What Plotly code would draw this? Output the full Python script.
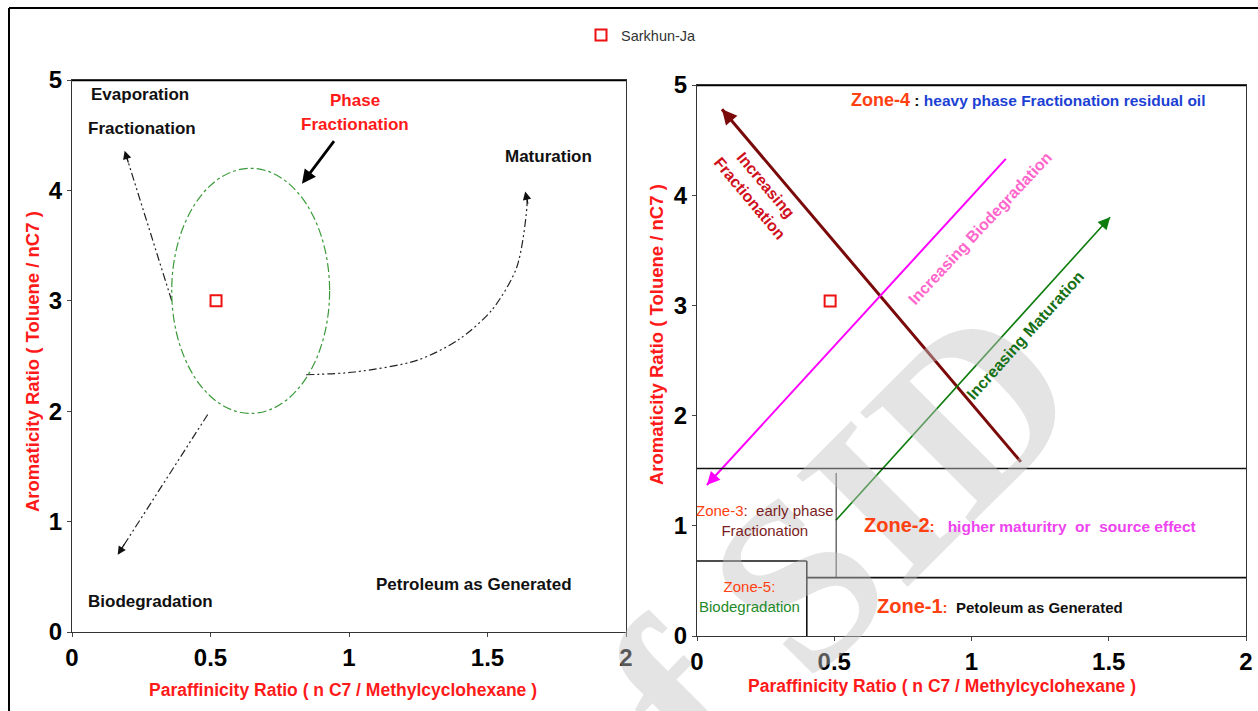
import math
import plotly.graph_objects as go

# ---- data -----------------------------------------------------------------
sample_name = "Sarkhun-Ja"
sample_left_x = [0.52]
sample_left_y = [3.0]
sample_right_x = [0.485]
sample_right_y = [3.04]

# left panel: phase-fractionation envelope (bounding box of the ellipse)
envelope_x = [0.36, 0.93]
envelope_y = [1.98, 4.20]

# left panel trend paths (dash-dot), arrowhead at the last point
evap_x = [0.36, 0.19]
evap_y = [3.00, 4.36]
biodeg_left_x = [0.49, 0.165]
biodeg_left_y = [1.97, 0.70]
matur_left_x = [0.845, 1.02, 1.245, 1.394, 1.516, 1.606, 1.643, 1.636]
matur_left_y = [2.33, 2.355, 2.46, 2.645, 2.917, 3.306, 3.913, 3.99]
phase_arrow_x = [0.95, 0.83]
phase_arrow_y = [4.46, 4.06]

# right panel trend lines, arrowhead at the last point
frac_x = [1.18, 0.091]
frac_y = [1.58, 4.78]
biodeg_x = [1.125, 0.036]
biodeg_y = [4.33, 1.37]
matur_x = [0.506, 1.505]
matur_y = [1.05, 3.80]

# right panel zone boundaries
zone_top_y = 1.52          # zone-4 lower limit
zone3_x = 0.507            # zone-3 / zone-2 divider
zone3_ylim = [0.535, 1.48]
zone1_top_y = 0.53         # zone-1 upper limit
zone5_x = 0.40             # zone-5 right limit
zone5_top_y = 0.68

x_ticks = [0, 0.5, 1, 1.5, 2]
x_tick_text = ["0", "0.5", "1", "1.5", "2"]
y_ticks = [0, 1, 2, 3, 4, 5]

# ---- layout geometry ----------------------------------------------------------
W, H = 1258, 711
LEFT_DOM_X = [72 / W, 626 / W]
LEFT_DOM_Y = [1 - 632 / H, 1 - 80 / H]
RIGHT_DOM_X = [697 / W, 1246 / W]
RIGHT_DOM_Y = [1 - 636 / H, 1 - 85 / H]
SCALE = {
    "x": (LEFT_DOM_X[1] - LEFT_DOM_X[0]) * W / 2,
    "y": (LEFT_DOM_Y[1] - LEFT_DOM_Y[0]) * H / 5,
    "x2": (RIGHT_DOM_X[1] - RIGHT_DOM_X[0]) * W / 2,
    "y2": (RIGHT_DOM_Y[1] - RIGHT_DOM_Y[0]) * H / 5,
}

NARROW = "Liberation Sans Narrow, Arial Narrow, Liberation Sans, Arial"
SANS = "Liberation Sans, Arial, Helvetica"
RED = "#ff1a1a"
ZONE = "#ff4010"

fig = go.Figure()

# watermark first so it sits under the other annotations
fig.add_annotation(x=800 / W, y=1 - 580 / H, xref="paper", yref="paper",
                   xanchor="center", yanchor="middle",
                   text="of SID", textangle=-45, showarrow=False, opacity=0.45,
                   font=dict(size=240, color="#c4c4c4", weight="bold",
                             family="Liberation Serif, Times New Roman, serif"))

sq = dict(symbol="square-open", size=11, color="#ee1111", line=dict(width=2))
fig.add_trace(go.Scatter(x=sample_left_x, y=sample_left_y, mode="markers",
                         marker=sq, name=sample_name, xaxis="x", yaxis="y",
                         showlegend=True))
fig.add_trace(go.Scatter(x=sample_right_x, y=sample_right_y, mode="markers",
                         marker=sq, name=sample_name, xaxis="x2", yaxis="y2",
                         showlegend=False))


def path(xs, ys, color, width, dash, ax="x", ay="y", shape="linear"):
    fig.add_trace(go.Scatter(x=xs, y=ys, mode="lines", xaxis=ax, yaxis=ay,
                             line=dict(color=color, width=width, dash=dash,
                                       shape=shape, smoothing=0.8),
                             showlegend=False, hoverinfo="skip"))


def head(xs, ys, color, size, width, xr="x", yr="y", tail=14):
    # arrowhead at the last point, pointing along the final segment
    x1, y1 = xs[-1], ys[-1]
    x0, y0 = xs[-2], ys[-2]
    dx = (x1 - x0) * SCALE[xr]
    dy = -(y1 - y0) * SCALE[yr]
    n = math.hypot(dx, dy)
    fig.add_annotation(x=x1, y=y1, xref=xr, yref=yr, ax=-dx / n * tail,
                       ay=-dy / n * tail, text="", showarrow=True,
                       arrowhead=2, arrowsize=size, arrowwidth=width,
                       arrowcolor=color)


# left panel
dashdot = "8px,3px,2px,3px,2px,3px"
path(evap_x, evap_y, "#222222", 1.2, dashdot)
head(evap_x, evap_y, "#111111", 1.4, 1.2)
path(biodeg_left_x, biodeg_left_y, "#222222", 1.2, dashdot)
head(biodeg_left_x, biodeg_left_y, "#111111", 1.4, 1.2)
path(matur_left_x, matur_left_y, "#222222", 1.2, dashdot, shape="spline")
head(matur_left_x, matur_left_y, "#111111", 1.4, 1.2)
fig.add_annotation(x=phase_arrow_x[1], y=phase_arrow_y[1], ax=phase_arrow_x[0],
                   ay=phase_arrow_y[0], xref="x", yref="y", axref="x", ayref="y",
                   text="", showarrow=True, arrowhead=2, arrowsize=1.0,
                   arrowwidth=2.8, arrowcolor="#000000")
fig.add_shape(type="circle", xref="x", yref="y",
              x0=envelope_x[0], x1=envelope_x[1], y0=envelope_y[0], y1=envelope_y[1],
              line=dict(color="#3a9a3a", width=1.2, dash="dashdot"))

# right panel
path(frac_x, frac_y, "#7a0a0a", 3, "solid", "x2", "y2")
head(frac_x, frac_y, "#7a0a0a", 1.0, 3, "x2", "y2", tail=16)
path(biodeg_x, biodeg_y, "#ff00ff", 2, "solid", "x2", "y2")
head(biodeg_x, biodeg_y, "#ff00ff", 1.3, 2, "x2", "y2")
path(matur_x, matur_y, "#0c7c0c", 1.6, "solid", "x2", "y2")
head(matur_x, matur_y, "#0c7c0c", 1.5, 1.6, "x2", "y2")

bline = dict(color="#111111", width=1.6)
fig.add_shape(type="line", xref="x2", yref="y2", x0=0, x1=2, y0=zone_top_y, y1=zone_top_y, line=bline)
fig.add_shape(type="line", xref="x2", yref="y2", x0=zone3_x, x1=zone3_x,
              y0=zone3_ylim[0], y1=zone3_ylim[1], line=dict(color="#222222", width=1))
fig.add_shape(type="line", xref="x2", yref="y2", x0=zone5_x, x1=2, y0=zone1_top_y, y1=zone1_top_y, line=bline)
fig.add_shape(type="line", xref="x2", yref="y2", x0=0, x1=zone5_x, y0=zone5_top_y, y1=zone5_top_y, line=bline)
fig.add_shape(type="line", xref="x2", yref="y2", x0=zone5_x, x1=zone5_x, y0=0, y1=zone5_top_y, line=bline)

# heavy top frame lines of both panels
for xr, yr in (("x", "y"), ("x2", "y2")):
    fig.add_shape(type="line", xref=xr, yref=yr, x0=0, x1=2, y0=5, y1=5,
                  line=dict(color="#000000", width=2.6))

# outer frame (left and top)
fig.add_shape(type="line", xref="paper", yref="paper", x0=9 / W, x1=9 / W,
              y0=0, y1=1 - 8 / H, line=dict(color="#000000", width=2))
fig.add_shape(type="line", xref="paper", yref="paper", x0=9 / W, x1=1,
              y0=1 - 8 / H, y1=1 - 8 / H, line=dict(color="#000000", width=2))


def note(x, y, text, size=17, color="#111111", family=NARROW, xr="x", yr="y",
         angle=0, bold=True, align="center"):
    fig.add_annotation(x=x, y=y, xref=xr, yref=yr, text=text, showarrow=False,
                       textangle=angle, align=align,
                       xanchor="center", yanchor="middle",
                       font=dict(size=size, color=color, family=family,
                                 weight="bold" if bold else "normal"))


# left panel labels
note(0.245, 4.87, "Evaporation")
note(0.253, 4.565, "Fractionation")
note(1.02, 4.81, "Phase", color=RED)
note(1.02, 4.60, "Fractionation", color=RED)
note(1.72, 4.31, "Maturation")
note(0.282, 0.28, "Biodegradation")
note(1.45, 0.426, "Petroleum as Generated")

# right panel labels
note(1.206, 4.86,
     f'<span style="color:{ZONE};font-size:18px">Zone-4</span> : '
     '<span style="color:#1c3fd4">heavy phase Fractionation residual oil</span>',
     size=15.5, family=SANS, xr="x2", yr="y2")
note(0.222, 4.03, "Increasing<br>Fractionation", size=16, color="#d0101c",
     family=SANS, xr="x2", yr="y2", angle=50)
note(1.03, 3.70, "Increasing Biodegradation", size=16, color="#ff66cc",
     family=SANS, xr="x2", yr="y2", angle=-47)
note(1.195, 2.73, "Increasing Maturation", size=16, color="#167016",
     family=SANS, xr="x2", yr="y2", angle=-48)
note(0.248, 1.05,
     f'<span style="color:{ZONE}">Zone-3</span>:  early phase<br>Fractionation',
     size=15, color="#7a1e1e", bold=False, xr="x2", yr="y2")
note(1.213, 1.007,
     f'<span style="color:{ZONE};font-size:20px">Zone-2</span>:   '
     '<span style="color:#ee44ee">higher maturitry  or  source effect</span>',
     size=15.5, family=SANS, color=ZONE, xr="x2", yr="y2")
note(0.193, 0.354,
     f'<span style="color:{ZONE}">Zone-5:</span><br>Biodegradation',
     size=15, color="#1f8a2a", bold=False, xr="x2", yr="y2")
note(1.104, 0.272,
     f'<span style="color:{ZONE};font-size:20px">Zone-1</span>:  '
     '<span style="color:#111111">Petoleum as Generated</span>',
     size=15, family=SANS, color=ZONE, xr="x2", yr="y2")

# axis titles
x_title = "Paraffinicity Ratio ( n C7 / Methylcyclohexane )"
y_title = "Aromaticity Ratio ( Toluene / nC7 )"
for xp, yp in ((32, 362), (657, 335)):
    fig.add_annotation(x=xp / W, y=1 - yp / H, xref="paper", yref="paper",
                       xanchor="center", yanchor="middle",
                       text=y_title, textangle=-90, showarrow=False,
                       font=dict(size=18.5, color=RED, family=SANS, weight="bold"))
for xp, yp in ((343, 690), (942, 686)):
    fig.add_annotation(x=xp / W, y=1 - yp / H, xref="paper", yref="paper",
                       xanchor="center", yanchor="middle",
                       text=x_title, showarrow=False,
                       font=dict(size=17.5, color=RED, family=NARROW, weight="bold"))

axis_common = dict(range=[0, 2], tickvals=x_ticks, ticktext=x_tick_text,
                   showgrid=False, zeroline=False, showline=True,
                   linecolor="#333333", linewidth=1, mirror=True,
                   ticks="outside", ticklen=4, tickcolor="#444444",
                   automargin=False,
                   tickfont=dict(size=24, color="#000000", family=NARROW,
                                 weight="bold"))
yaxis_common = dict(range=[0, 5], tickvals=y_ticks, showgrid=False,
                    zeroline=False, showline=True, linecolor="#333333",
                    linewidth=1, mirror=True, ticks="outside", ticklen=4,
                    tickcolor="#444444", automargin=False,
                    tickfont=dict(size=24, color="#000000", family=NARROW,
                                  weight="bold"))

fig.update_layout(
    width=W, height=H,
    margin=dict(l=0, r=0, t=0, b=0, autoexpand=False),
    paper_bgcolor="#ffffff", plot_bgcolor="#ffffff",
    xaxis=dict(domain=LEFT_DOM_X, anchor="y", **axis_common),
    yaxis=dict(domain=LEFT_DOM_Y, anchor="x", **yaxis_common),
    xaxis2=dict(domain=RIGHT_DOM_X, anchor="y2", **axis_common),
    yaxis2=dict(domain=RIGHT_DOM_Y, anchor="x2", **yaxis_common),
    showlegend=True,
    legend=dict(x=581 / W, y=1 - 19 / H, xanchor="left", yanchor="top",
                bgcolor="rgba(0,0,0,0)", itemwidth=30,
                font=dict(size=14.5, color="#333333", family=SANS)),
)

fig.write_html("out.html")
